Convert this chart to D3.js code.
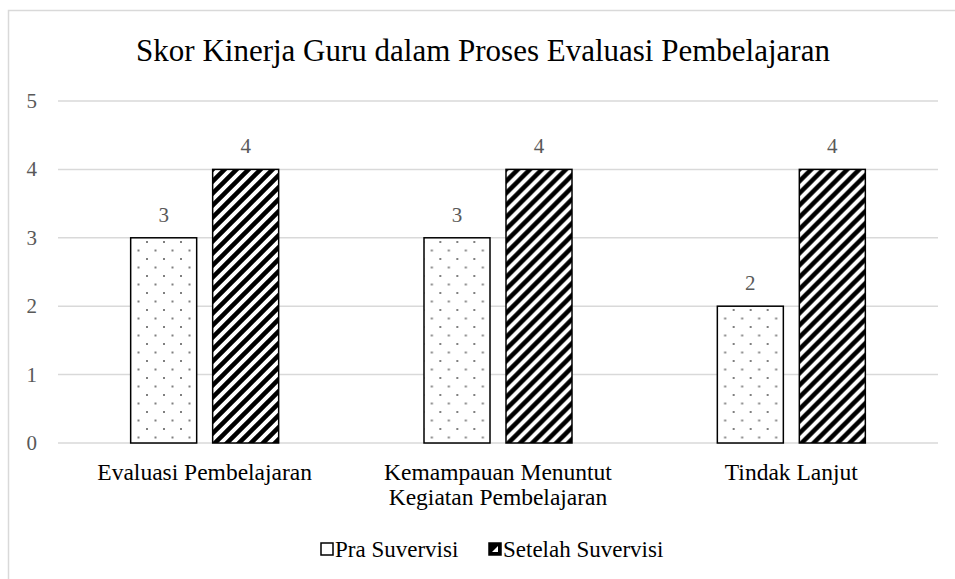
<!DOCTYPE html>
<html>
<head>
<meta charset="utf-8">
<script src="https://cdn.jsdelivr.net/npm/d3@7"></script>
<style>
  body { margin: 0; background: #fff; }
  text { font-family: "Liberation Serif", "Times New Roman", serif; }
</style>
</head>
<body>
<div id="chart"></div>
<script>
const categories = [["Evaluasi Pembelajaran"], ["Kemampauan Menuntut", "Kegiatan Pembelajaran"], ["Tindak Lanjut"]];
const seriesNames = ["Pra Suvervisi", "Setelah Suvervisi"];
const praValues = [3, 3, 2];
const setelahValues = [4, 4, 4];
const yTicks = [0, 1, 2, 3, 4, 5];

const width = 955, height = 579;
const margin = { top: 101, right: 17, bottom: 136, left: 58 };

const svg = d3.select("#chart").append("svg")
  .attr("width", width)
  .attr("height", height);

// patterns
const defs = svg.append("defs");
const dots = defs.append("pattern")
  .attr("id", "dots").attr("patternUnits", "userSpaceOnUse")
  .attr("width", 17).attr("height", 17);
dots.append("rect").attr("width", 17).attr("height", 17).attr("fill", "#fff");
dots.append("rect").attr("x", 3).attr("y", 3).attr("width", 2).attr("height", 2).attr("fill", "#808080");
dots.append("rect").attr("x", 11.5).attr("y", 11.5).attr("width", 2).attr("height", 2).attr("fill", "#808080");

const stripes = defs.append("pattern")
  .attr("id", "stripes").attr("patternUnits", "userSpaceOnUse")
  .attr("width", 12).attr("height", 12);
stripes.append("rect").attr("width", 12).attr("height", 12).attr("fill", "#fff");
stripes.append("path")
  .attr("d", "M-3,3 L3,-3 M0,12 L12,0 M9,15 L15,9")
  .attr("stroke", "#000").attr("stroke-width", 4.5);

// chart border
svg.append("rect")
  .attr("x", 8.5).attr("y", 10.5)
  .attr("width", 960).attr("height", 600)
  .attr("fill", "none").attr("stroke", "#d9d9d9").attr("stroke-width", 1.5);

svg.append("text")
  .attr("x", 483).attr("y", 61)
  .attr("text-anchor", "middle")
  .attr("font-size", 31)
  .attr("fill", "#000")
  .text("Skor Kinerja Guru dalam Proses Evaluasi Pembelajaran");

const x0 = d3.scaleBand()
  .domain(d3.range(categories.length))
  .range([margin.left, width - margin.right]);

const x1 = d3.scaleBand()
  .domain(seriesNames)
  .range([x0.bandwidth() / 2 - 74, x0.bandwidth() / 2 + 74])
  .paddingInner(0.195);

const y = d3.scaleLinear()
  .domain([0, 5])
  .range([height - margin.bottom, margin.top]);

// gridlines
svg.append("g")
  .selectAll("line")
  .data(yTicks)
  .join("line")
  .attr("x1", margin.left).attr("x2", width - margin.right)
  .attr("y1", d => y(d)).attr("y2", d => y(d))
  .attr("stroke", "#d9d9d9").attr("stroke-width", 1.5);

// y labels
svg.append("g")
  .selectAll("text")
  .data(yTicks)
  .join("text")
  .attr("x", 37).attr("y", d => y(d) + 7)
  .attr("text-anchor", "end")
  .attr("font-size", 21)
  .attr("fill", "#595959")
  .text(d => d);

const fills = { "Pra Suvervisi": "url(#dots)", "Setelah Suvervisi": "url(#stripes)" };
const rows = categories.map((c, i) => ({
  i,
  vals: [
    { name: seriesNames[0], v: praValues[i] },
    { name: seriesNames[1], v: setelahValues[i] }
  ]
}));

const groups = svg.append("g")
  .selectAll("g")
  .data(rows)
  .join("g")
  .attr("transform", d => `translate(${x0(d.i)},0)`);

groups.selectAll("rect")
  .data(d => d.vals)
  .join("rect")
  .attr("x", d => x1(d.name))
  .attr("width", x1.bandwidth())
  .attr("y", d => y(d.v))
  .attr("height", d => y(0) - y(d.v))
  .attr("fill", d => fills[d.name])
  .attr("stroke", "#000")
  .attr("stroke-width", 1.5);

groups.selectAll("text.lbl")
  .data(d => d.vals)
  .join("text")
  .attr("class", "lbl")
  .attr("x", d => x1(d.name) + x1.bandwidth() / 2)
  .attr("y", d => y(d.v) - 16)
  .attr("text-anchor", "middle")
  .attr("font-size", 21)
  .attr("fill", "#595959")
  .text(d => d.v);

// category labels
svg.append("g")
  .selectAll("text")
  .data(categories)
  .join("text")
  .attr("text-anchor", "middle")
  .attr("font-size", 23.5)
  .attr("fill", "#000")
  .each(function (lines, i) {
    d3.select(this).selectAll("tspan")
      .data(lines)
      .join("tspan")
      .attr("x", x0(i) + x0.bandwidth() / 2)
      .attr("y", (d, j) => 480 + j * 25)
      .text(d => d);
  });

// legend
const legend = svg.append("g");
const legendItems = [
  { name: seriesNames[0], x: 321 },
  { name: seriesNames[1], x: 489 }
];
legendItems.forEach(item => {
  const g = legend.append("g").attr("transform", `translate(${item.x},543)`);
  g.append("rect")
    .attr("width", 12).attr("height", 12)
    .attr("fill", item.name === seriesNames[0] ? "#fff" : "#000")
    .attr("stroke", "#000").attr("stroke-width", 1.5);
  if (item.name === seriesNames[1]) {
    g.append("path").attr("d", "M3,9 L9,3 L9,9 Z").attr("fill", "#fff");
  }
  g.append("text")
    .attr("x", 14).attr("y", 14)
    .attr("font-size", 23)
    .attr("fill", "#000")
    .text(item.name);
});
</script>
</body>
</html>
